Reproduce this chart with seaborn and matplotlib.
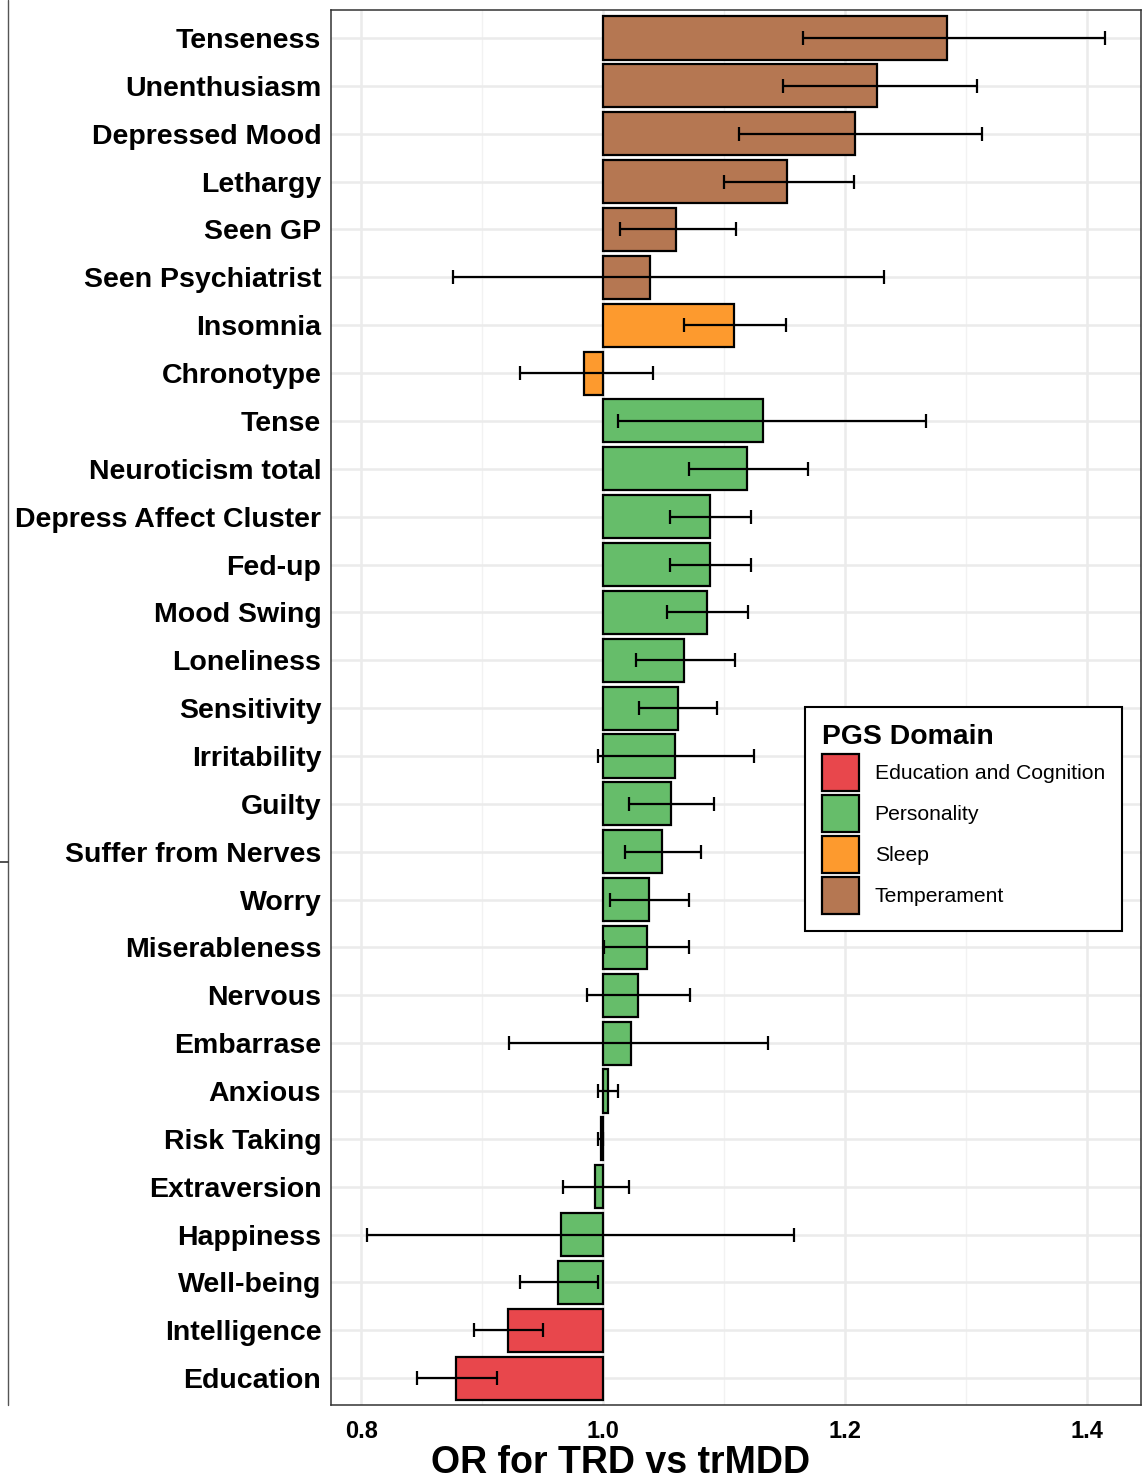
import matplotlib
matplotlib.use("Agg")

import matplotlib.pyplot as plt
import numpy as np
import pandas as pd
import seaborn as sns
from matplotlib.lines import Line2D
from matplotlib.patches import Patch
from matplotlib.ticker import FixedLocator

traits = [
    "Tenseness", "Unenthusiasm", "Depressed Mood", "Lethargy", "Seen GP",
    "Seen Psychiatrist", "Insomnia", "Chronotype", "Tense", "Neuroticism total",
    "Depress Affect Cluster", "Fed-up", "Mood Swing", "Loneliness", "Sensitivity",
    "Irritability", "Guilty", "Suffer from Nerves", "Worry", "Miserableness",
    "Nervous", "Embarrase", "Anxious", "Risk Taking", "Extraversion",
    "Happiness", "Well-being", "Intelligence", "Education",
]
domains = (
    ["Temperament"] * 6
    + ["Sleep"] * 2
    + ["Personality"] * 19
    + ["Education and Cognition"] * 2
)
odds_ratio = [
    1.284, 1.226, 1.208, 1.152, 1.060,
    1.039, 1.108, 0.984, 1.132, 1.119,
    1.088, 1.088, 1.086, 1.067, 1.062,
    1.059, 1.056, 1.049, 1.038, 1.036,
    1.029, 1.023, 1.004, 0.998, 0.993,
    0.965, 0.963, 0.921, 0.878,
]
ci_low = [
    1.165, 1.149, 1.112, 1.100, 1.014,
    0.876, 1.067, 0.931, 1.012, 1.071,
    1.055, 1.055, 1.053, 1.027, 1.030,
    0.996, 1.021, 1.018, 1.006, 1.001,
    0.987, 0.922, 0.996, 0.996, 0.967,
    0.805, 0.931, 0.893, 0.846,
]
ci_high = [
    1.415, 1.309, 1.313, 1.207, 1.110,
    1.232, 1.151, 1.041, 1.267, 1.169,
    1.122, 1.122, 1.120, 1.109, 1.094,
    1.125, 1.092, 1.081, 1.071, 1.071,
    1.072, 1.136, 1.012, 1.000, 1.021,
    1.158, 0.996, 0.950, 0.912,
]

domain_order = ["Education and Cognition", "Personality", "Sleep", "Temperament"]
domain_colors = {
    "Education and Cognition": "#E8474C",
    "Personality": "#66BD6A",
    "Sleep": "#FD9A2E",
    "Temperament": "#B57752",
}

sns.set_theme(style="white")
plt.rcParams["font.family"] = ["Liberation Sans", "DejaVu Sans"]
plt.rcParams["text.color"] = "black"

df = pd.DataFrame({"trait": traits, "domain": domains, "OR": odds_ratio})
df["delta"] = df["OR"] - 1.0

fig = plt.figure(figsize=(11.42, 14.84), dpi=100)
ax = fig.add_axes([331 / 1142, 1 - 1405 / 1484, 810 / 1142, 1395 / 1484])

sns.barplot(
    data=df, y="trait", x="delta", hue="domain",
    order=traits, hue_order=domain_order, palette=domain_colors,
    dodge=False, width=0.9, left=1.0, saturation=1,
    edgecolor="black", linewidth=1.6, legend=False, ax=ax, zorder=2,
)

pos = np.arange(len(traits))
lo = np.array(ci_low)
hi = np.array(ci_high)
ax.errorbar(
    (lo + hi) / 2, pos, xerr=(hi - lo) / 2, fmt="none",
    ecolor="black", elinewidth=1.6, capsize=5, capthick=1.6, zorder=3,
)

ax.set_xlim(0.775, 1.4446)
ax.set_ylim(len(traits) - 1 + 0.56, -0.585)
ax.set_xticks([0.8, 1.0, 1.2, 1.4])
ax.set_xticklabels(["0.8", "1.0", "1.2", "1.4"])
ax.xaxis.set_minor_locator(FixedLocator([0.9, 1.1, 1.3]))

ax.set_axisbelow(True)
ax.grid(True, which="major", axis="both", color="#EBEBEB", linewidth=1.8)
ax.grid(True, which="minor", axis="x", color="#F2F2F2", linewidth=1.0)

for side in ax.spines.values():
    side.set_visible(True)
    side.set_color("#333333")
    side.set_linewidth(1.1)

ax.tick_params(axis="y", which="major", length=5, width=1.1, color="#333333",
               pad=2, labelsize=20.5)
ax.tick_params(axis="x", which="major", length=5, width=1.1, color="#333333",
               pad=6, labelsize=17)
ax.tick_params(axis="x", which="minor", length=0)
for lab in ax.get_yticklabels() + ax.get_xticklabels():
    lab.set_fontweight("bold")
    lab.set_color("black")

ax.set_ylabel("")
ax.set_xlabel("OR for TRD vs trMDD", fontsize=27, fontweight="bold", color="black")
ax.xaxis.set_label_coords(0.357, -0.029)

handles = [
    Patch(facecolor=domain_colors[d], edgecolor="black", linewidth=1.6)
    for d in domain_order
]
leg = fig.legend(
    handles, domain_order, title="PGS Domain",
    loc="upper left", bbox_to_anchor=(805 / 1142, 1 - 707 / 1484),
    frameon=True, fancybox=False, edgecolor="black", framealpha=1,
    fontsize=15.2, title_fontproperties={"weight": "bold", "size": 20.4},
    handlelength=1.75, handleheight=2.32, labelspacing=0.19,
    borderpad=0.8, handletextpad=0.75, borderaxespad=0, alignment="left",
)
leg.get_frame().set_linewidth(1.5)
leg.get_title().set_color("black")
for txt in leg.get_texts():
    txt.set_color("black")

# stray edge of the neighbouring panel at the far left
fig.add_artist(Line2D([8 / 1142, 8 / 1142], [1 - 1405 / 1484, 1.0],
                      transform=fig.transFigure, color="#555555", linewidth=1.0))
fig.add_artist(Line2D([0, 8 / 1142], [1 - 862 / 1484, 1 - 862 / 1484],
                      transform=fig.transFigure, color="#333333", linewidth=1.2))

fig.savefig("out.png", dpi=100)
